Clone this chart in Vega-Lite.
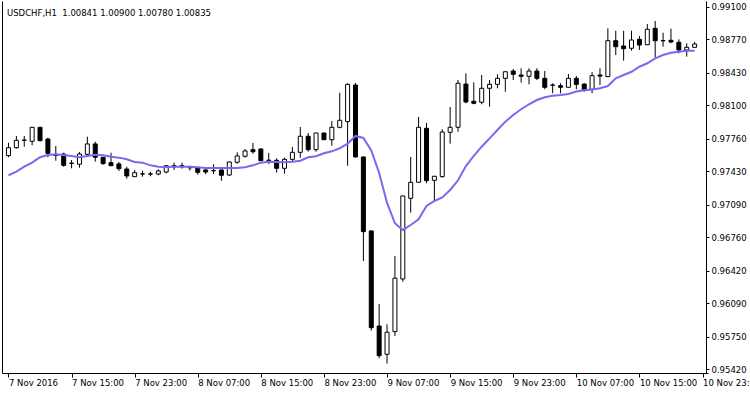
{
  "$schema": "https://vega.github.io/schema/vega-lite/v6.json",
  "width": 706,
  "height": 372,
  "autosize": {"type": "none"},
  "padding": {"left": 2, "top": 1, "right": 42, "bottom": 21},
  "background": "white",
  "title": {
    "text": "USDCHF,H1\u00a0 1.00841 1.00900 1.00780 1.00835",
    "anchor": "start",
    "frame": "group",
    "orient": "top",
    "offset": -23,
    "baseline": "alphabetic",
    "dx": 5,
    "font": "DejaVu Sans",
    "fontSize": 8.5,
    "fontWeight": "normal",
    "color": "black"
  },
  "config": {
    "view": {"stroke": null},
    "axis": {
      "domainColor": "black",
      "tickColor": "black",
      "labelColor": "black",
      "labelFont": "DejaVu Sans",
      "labelFontSize": 8.5,
      "grid": false,
      "title": null,
      "domainWidth": 1,
      "tickWidth": 1,
      "labelOverlap": false,
      "labelBound": false,
      "labelFlush": false
    }
  },
  "data": {
    "values": [
      {"time": "2016-11-07T07:00:00Z", "open": 0.97588, "high": 0.97720, "low": 0.97572, "close": 0.97669, "ma": 0.97389},
      {"time": "2016-11-07T08:00:00Z", "open": 0.97669, "high": 0.97788, "low": 0.97659, "close": 0.97744, "ma": 0.97426},
      {"time": "2016-11-07T09:00:00Z", "open": 0.97747, "high": 0.97788, "low": 0.97679, "close": 0.97744, "ma": 0.97476},
      {"time": "2016-11-07T10:00:00Z", "open": 0.97734, "high": 0.97880, "low": 0.97693, "close": 0.97876, "ma": 0.97517},
      {"time": "2016-11-07T11:00:00Z", "open": 0.97876, "high": 0.97878, "low": 0.97735, "close": 0.97740, "ma": 0.97572},
      {"time": "2016-11-07T12:00:00Z", "open": 0.97757, "high": 0.97770, "low": 0.97572, "close": 0.97612, "ma": 0.97595},
      {"time": "2016-11-07T13:00:00Z", "open": 0.97595, "high": 0.97686, "low": 0.97537, "close": 0.97590, "ma": 0.97602},
      {"time": "2016-11-07T14:00:00Z", "open": 0.97605, "high": 0.97618, "low": 0.97476, "close": 0.97490, "ma": 0.97595},
      {"time": "2016-11-07T15:00:00Z", "open": 0.97512, "high": 0.97544, "low": 0.97460, "close": 0.97510, "ma": 0.97585},
      {"time": "2016-11-07T16:00:00Z", "open": 0.97501, "high": 0.97625, "low": 0.97466, "close": 0.97605, "ma": 0.97572},
      {"time": "2016-11-07T17:00:00Z", "open": 0.97602, "high": 0.97781, "low": 0.97592, "close": 0.97707, "ma": 0.97585},
      {"time": "2016-11-07T18:00:00Z", "open": 0.97707, "high": 0.97730, "low": 0.97527, "close": 0.97572, "ma": 0.97598},
      {"time": "2016-11-07T19:00:00Z", "open": 0.97572, "high": 0.97575, "low": 0.97496, "close": 0.97507, "ma": 0.97592},
      {"time": "2016-11-07T20:00:00Z", "open": 0.97517, "high": 0.97618, "low": 0.97484, "close": 0.97486, "ma": 0.97578},
      {"time": "2016-11-07T21:00:00Z", "open": 0.97504, "high": 0.97524, "low": 0.97433, "close": 0.97456, "ma": 0.97568},
      {"time": "2016-11-07T22:00:00Z", "open": 0.97453, "high": 0.97476, "low": 0.97354, "close": 0.97382, "ma": 0.97551},
      {"time": "2016-11-07T23:00:00Z", "open": 0.97375, "high": 0.97443, "low": 0.97373, "close": 0.97415, "ma": 0.97524},
      {"time": "2016-11-08T00:00:00Z", "open": 0.97403, "high": 0.97436, "low": 0.97375, "close": 0.97402, "ma": 0.97517},
      {"time": "2016-11-08T01:00:00Z", "open": 0.97401, "high": 0.97425, "low": 0.97379, "close": 0.97403, "ma": 0.97490},
      {"time": "2016-11-08T02:00:00Z", "open": 0.97402, "high": 0.97450, "low": 0.97389, "close": 0.97433, "ma": 0.97476},
      {"time": "2016-11-08T03:00:00Z", "open": 0.97422, "high": 0.97493, "low": 0.97409, "close": 0.97486, "ma": 0.97473},
      {"time": "2016-11-08T04:00:00Z", "open": 0.97486, "high": 0.97517, "low": 0.97443, "close": 0.97474, "ma": 0.97476},
      {"time": "2016-11-08T05:00:00Z", "open": 0.97487, "high": 0.97517, "low": 0.97456, "close": 0.97474, "ma": 0.97476},
      {"time": "2016-11-08T06:00:00Z", "open": 0.97467, "high": 0.97486, "low": 0.97436, "close": 0.97465, "ma": 0.97476},
      {"time": "2016-11-08T07:00:00Z", "open": 0.97466, "high": 0.97476, "low": 0.97395, "close": 0.97419, "ma": 0.97470},
      {"time": "2016-11-08T08:00:00Z", "open": 0.97443, "high": 0.97450, "low": 0.97399, "close": 0.97422, "ma": 0.97463},
      {"time": "2016-11-08T09:00:00Z", "open": 0.97437, "high": 0.97500, "low": 0.97402, "close": 0.97435, "ma": 0.97463},
      {"time": "2016-11-08T10:00:00Z", "open": 0.97443, "high": 0.97445, "low": 0.97334, "close": 0.97389, "ma": 0.97463},
      {"time": "2016-11-08T11:00:00Z", "open": 0.97392, "high": 0.97527, "low": 0.97382, "close": 0.97524, "ma": 0.97463},
      {"time": "2016-11-08T12:00:00Z", "open": 0.97521, "high": 0.97622, "low": 0.97507, "close": 0.97585, "ma": 0.97462},
      {"time": "2016-11-08T13:00:00Z", "open": 0.97582, "high": 0.97656, "low": 0.97568, "close": 0.97636, "ma": 0.97470},
      {"time": "2016-11-08T14:00:00Z", "open": 0.97649, "high": 0.97717, "low": 0.97608, "close": 0.97628, "ma": 0.97490},
      {"time": "2016-11-08T15:00:00Z", "open": 0.97656, "high": 0.97663, "low": 0.97531, "close": 0.97537, "ma": 0.97517},
      {"time": "2016-11-08T16:00:00Z", "open": 0.97542, "high": 0.97615, "low": 0.97504, "close": 0.97540, "ma": 0.97527},
      {"time": "2016-11-08T17:00:00Z", "open": 0.97541, "high": 0.97561, "low": 0.97415, "close": 0.97460, "ma": 0.97524},
      {"time": "2016-11-08T18:00:00Z", "open": 0.97460, "high": 0.97568, "low": 0.97405, "close": 0.97551, "ma": 0.97521},
      {"time": "2016-11-08T19:00:00Z", "open": 0.97551, "high": 0.97676, "low": 0.97534, "close": 0.97622, "ma": 0.97527},
      {"time": "2016-11-08T20:00:00Z", "open": 0.97622, "high": 0.97879, "low": 0.97568, "close": 0.97785, "ma": 0.97537},
      {"time": "2016-11-08T21:00:00Z", "open": 0.97785, "high": 0.97818, "low": 0.97628, "close": 0.97649, "ma": 0.97572},
      {"time": "2016-11-08T22:00:00Z", "open": 0.97649, "high": 0.97820, "low": 0.97628, "close": 0.97818, "ma": 0.97582},
      {"time": "2016-11-08T23:00:00Z", "open": 0.97818, "high": 0.97820, "low": 0.97748, "close": 0.97750, "ma": 0.97612},
      {"time": "2016-11-09T00:00:00Z", "open": 0.97750, "high": 0.97940, "low": 0.97689, "close": 0.97876, "ma": 0.97632},
      {"time": "2016-11-09T01:00:00Z", "open": 0.97876, "high": 0.98227, "low": 0.97866, "close": 0.97947, "ma": 0.97663},
      {"time": "2016-11-09T02:00:00Z", "open": 0.97933, "high": 0.98323, "low": 0.97486, "close": 0.98312, "ma": 0.97710},
      {"time": "2016-11-09T03:00:00Z", "open": 0.98305, "high": 0.98326, "low": 0.97568, "close": 0.97575, "ma": 0.97788},
      {"time": "2016-11-09T04:00:00Z", "open": 0.97575, "high": 0.97577, "low": 0.96519, "close": 0.96817, "ma": 0.97768},
      {"time": "2016-11-09T05:00:00Z", "open": 0.96824, "high": 0.96831, "low": 0.95812, "close": 0.95842, "ma": 0.97641},
      {"time": "2016-11-09T06:00:00Z", "open": 0.95859, "high": 0.96083, "low": 0.95532, "close": 0.95558, "ma": 0.97412},
      {"time": "2016-11-09T07:00:00Z", "open": 0.95572, "high": 0.95877, "low": 0.95477, "close": 0.95796, "ma": 0.97108},
      {"time": "2016-11-09T08:00:00Z", "open": 0.95802, "high": 0.96570, "low": 0.95758, "close": 0.96344, "ma": 0.96902},
      {"time": "2016-11-09T09:00:00Z", "open": 0.96336, "high": 0.97182, "low": 0.96309, "close": 0.97179, "ma": 0.96834},
      {"time": "2016-11-09T10:00:00Z", "open": 0.97155, "high": 0.97575, "low": 0.97009, "close": 0.97318, "ma": 0.96884},
      {"time": "2016-11-09T11:00:00Z", "open": 0.97318, "high": 0.97981, "low": 0.97315, "close": 0.97876, "ma": 0.96942},
      {"time": "2016-11-09T12:00:00Z", "open": 0.97866, "high": 0.97920, "low": 0.97308, "close": 0.97334, "ma": 0.97077},
      {"time": "2016-11-09T13:00:00Z", "open": 0.97338, "high": 0.97381, "low": 0.97125, "close": 0.97379, "ma": 0.97128},
      {"time": "2016-11-09T14:00:00Z", "open": 0.97375, "high": 0.97856, "low": 0.97365, "close": 0.97828, "ma": 0.97164},
      {"time": "2016-11-09T15:00:00Z", "open": 0.97825, "high": 0.98082, "low": 0.97710, "close": 0.97876, "ma": 0.97240},
      {"time": "2016-11-09T16:00:00Z", "open": 0.97876, "high": 0.98356, "low": 0.97831, "close": 0.98323, "ma": 0.97338},
      {"time": "2016-11-09T17:00:00Z", "open": 0.98315, "high": 0.98424, "low": 0.98120, "close": 0.98133, "ma": 0.97483},
      {"time": "2016-11-09T18:00:00Z", "open": 0.98140, "high": 0.98333, "low": 0.98110, "close": 0.98120, "ma": 0.97585},
      {"time": "2016-11-09T19:00:00Z", "open": 0.98130, "high": 0.98407, "low": 0.98110, "close": 0.98272, "ma": 0.97679},
      {"time": "2016-11-09T20:00:00Z", "open": 0.98272, "high": 0.98356, "low": 0.98085, "close": 0.98312, "ma": 0.97764},
      {"time": "2016-11-09T21:00:00Z", "open": 0.98312, "high": 0.98414, "low": 0.98272, "close": 0.98373, "ma": 0.97849},
      {"time": "2016-11-09T22:00:00Z", "open": 0.98373, "high": 0.98443, "low": 0.98237, "close": 0.98440, "ma": 0.97933},
      {"time": "2016-11-09T23:00:00Z", "open": 0.98447, "high": 0.98468, "low": 0.98356, "close": 0.98414, "ma": 0.98001},
      {"time": "2016-11-10T00:00:00Z", "open": 0.98407, "high": 0.98475, "low": 0.98329, "close": 0.98394, "ma": 0.98059},
      {"time": "2016-11-10T01:00:00Z", "open": 0.98394, "high": 0.98475, "low": 0.98312, "close": 0.98447, "ma": 0.98110},
      {"time": "2016-11-10T02:00:00Z", "open": 0.98447, "high": 0.98475, "low": 0.98356, "close": 0.98373, "ma": 0.98153},
      {"time": "2016-11-10T03:00:00Z", "open": 0.98373, "high": 0.98447, "low": 0.98262, "close": 0.98282, "ma": 0.98181},
      {"time": "2016-11-10T04:00:00Z", "open": 0.98305, "high": 0.98323, "low": 0.98221, "close": 0.98303, "ma": 0.98197},
      {"time": "2016-11-10T05:00:00Z", "open": 0.98298, "high": 0.98323, "low": 0.98221, "close": 0.98282, "ma": 0.98204},
      {"time": "2016-11-10T06:00:00Z", "open": 0.98282, "high": 0.98417, "low": 0.98280, "close": 0.98373, "ma": 0.98214},
      {"time": "2016-11-10T07:00:00Z", "open": 0.98373, "high": 0.98397, "low": 0.98262, "close": 0.98312, "ma": 0.98239},
      {"time": "2016-11-10T08:00:00Z", "open": 0.98315, "high": 0.98323, "low": 0.98237, "close": 0.98258, "ma": 0.98252},
      {"time": "2016-11-10T09:00:00Z", "open": 0.98262, "high": 0.98437, "low": 0.98221, "close": 0.98400, "ma": 0.98259},
      {"time": "2016-11-10T10:00:00Z", "open": 0.98407, "high": 0.98475, "low": 0.98305, "close": 0.98396, "ma": 0.98272},
      {"time": "2016-11-10T11:00:00Z", "open": 0.98390, "high": 0.98881, "low": 0.98388, "close": 0.98755, "ma": 0.98295},
      {"time": "2016-11-10T12:00:00Z", "open": 0.98755, "high": 0.98856, "low": 0.98610, "close": 0.98694, "ma": 0.98373},
      {"time": "2016-11-10T13:00:00Z", "open": 0.98701, "high": 0.98856, "low": 0.98552, "close": 0.98674, "ma": 0.98407},
      {"time": "2016-11-10T14:00:00Z", "open": 0.98678, "high": 0.98856, "low": 0.98653, "close": 0.98762, "ma": 0.98440},
      {"time": "2016-11-10T15:00:00Z", "open": 0.98769, "high": 0.98803, "low": 0.98661, "close": 0.98711, "ma": 0.98491},
      {"time": "2016-11-10T16:00:00Z", "open": 0.98714, "high": 0.98924, "low": 0.98711, "close": 0.98871, "ma": 0.98526},
      {"time": "2016-11-10T17:00:00Z", "open": 0.98881, "high": 0.98955, "low": 0.98586, "close": 0.98755, "ma": 0.98576},
      {"time": "2016-11-10T18:00:00Z", "open": 0.98756, "high": 0.98836, "low": 0.98694, "close": 0.98754, "ma": 0.98610},
      {"time": "2016-11-10T19:00:00Z", "open": 0.98759, "high": 0.98877, "low": 0.98729, "close": 0.98742, "ma": 0.98633},
      {"time": "2016-11-10T20:00:00Z", "open": 0.98739, "high": 0.98769, "low": 0.98627, "close": 0.98661, "ma": 0.98643},
      {"time": "2016-11-10T21:00:00Z", "open": 0.98661, "high": 0.98729, "low": 0.98593, "close": 0.98688, "ma": 0.98653},
      {"time": "2016-11-10T22:00:00Z", "open": 0.98688, "high": 0.98742, "low": 0.98686, "close": 0.98721, "ma": 0.98653}
    ]
  },
  "resolve": {"axis": {"y": "independent"}},
  "layer": [
    {
      "layer": [
        {
          "mark": {"type": "rule", "color": "black", "strokeWidth": 1},
          "encoding": {
            "x": {
              "field": "time", "type": "temporal",
              "scale": {"type": "utc", "domain": [{"year": 2016, "month": 11, "date": 7, "hours": 6, "minutes": 48, "seconds": 45, "utc": true}, {"year": 2016, "month": 11, "date": 10, "hours": 23, "minutes": 3, "seconds": 45, "utc": true}]},
              "axis": {
                "orient": "bottom",
                "values": [
                  {"year": 2016, "month": 11, "date": 7, "hours": 7, "utc": true},
                  {"year": 2016, "month": 11, "date": 7, "hours": 15, "utc": true},
                  {"year": 2016, "month": 11, "date": 7, "hours": 23, "utc": true},
                  {"year": 2016, "month": 11, "date": 8, "hours": 7, "utc": true},
                  {"year": 2016, "month": 11, "date": 8, "hours": 15, "utc": true},
                  {"year": 2016, "month": 11, "date": 8, "hours": 23, "utc": true},
                  {"year": 2016, "month": 11, "date": 9, "hours": 7, "utc": true},
                  {"year": 2016, "month": 11, "date": 9, "hours": 15, "utc": true},
                  {"year": 2016, "month": 11, "date": 9, "hours": 23, "utc": true},
                  {"year": 2016, "month": 11, "date": 10, "hours": 7, "utc": true},
                  {"year": 2016, "month": 11, "date": 10, "hours": 15, "utc": true},
                  {"year": 2016, "month": 11, "date": 10, "hours": 23, "utc": true}
                ],
                "labelExpr": "datum.index == 0 ? utcFormat(datum.value, '%-d %b %Y') : utcFormat(datum.value, '%-d %b %H:%M')",
                "labelAlign": "left",
                "labelBaseline": "top",
                "labelPadding": 1,
                "tickSize": 4
              }
            },
            "y": {
              "field": "low", "type": "quantitative",
              "scale": {"domain": [0.95382, 0.99158], "nice": false, "zero": false},
              "axis": {
                "orient": "right",
                "values": [0.9542, 0.9575, 0.9609, 0.9642, 0.9676, 0.9709, 0.9743, 0.9776, 0.981, 0.9843, 0.9877, 0.991],
                "format": ".5f",
                "tickSize": 3,
                "labelPadding": 2,
                "labelAlign": "left",
                "labelBaseline": "middle",
                "labelOverlap": false,
                "offset": -2
              }
            },
            "y2": {"field": "high"}
          }
        },
        {
          "mark": {"type": "bar", "width": 4, "stroke": "black", "strokeWidth": 1},
          "encoding": {
            "x": {"field": "time", "type": "temporal"},
            "y": {
              "field": "open", "type": "quantitative",
              "axis": {
                "orient": "right",
                "values": [0.9542, 0.9575, 0.9609, 0.9642, 0.9676, 0.9709, 0.9743, 0.9776, 0.981, 0.9843, 0.9877, 0.991],
                "format": ".5f",
                "tickSize": 3,
                "labelPadding": 2,
                "labelAlign": "left",
                "labelBaseline": "middle",
                "labelOverlap": false,
                "offset": -2
              }
            },
            "y2": {"field": "close"},
            "fill": {"condition": {"test": "datum.close > datum.open", "value": "white"}, "value": "black"}
          }
        }
      ]
    },
    {
      "mark": {"type": "line", "color": "#7B68EE", "strokeWidth": 2},
      "encoding": {
        "x": {"field": "time", "type": "temporal"},
        "y": {
          "field": "ma", "type": "quantitative",
          "axis": {"orient": "left", "labels": false, "ticks": false, "domain": true, "grid": false}
        }
      }
    }
  ]
}
